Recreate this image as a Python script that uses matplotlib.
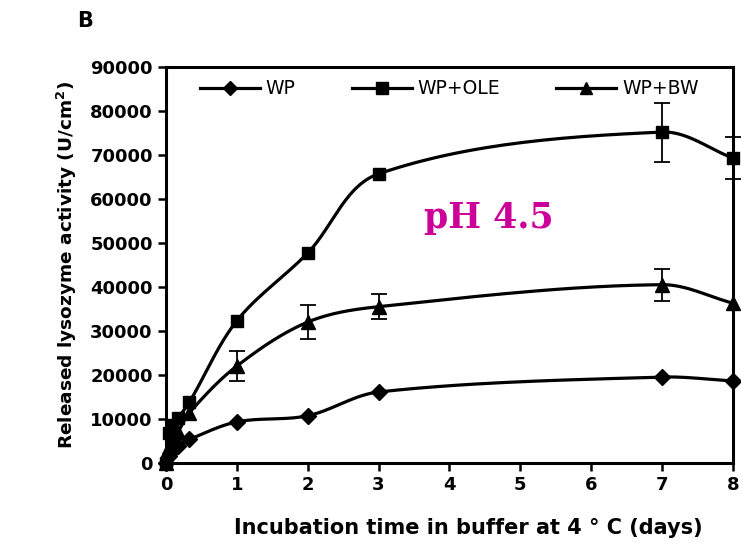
import numpy as np
import matplotlib.pyplot as plt

# sampling times (days)
days = [0, 0.04, 0.08, 0.17, 0.33, 1, 2, 3, 7, 8]

wp = [0, 1500, 2600, 3800, 5300, 9300, 10700, 16100, 19500, 18600]
wp_ole = [0, 6800, 8500, 10200, 13800, 32300, 47700, 65700, 75200, 69300]
wp_ole_err = [0, 0, 0, 0, 0, 0, 0, 0, 6700, 4700]
wp_bw = [0, 3500, 5000, 7000, 11400, 22000, 32000, 35500, 40500, 36300]
wp_bw_err = [0, 0, 0, 0, 0, 3400, 3900, 2800, 3600, 0]

# pixel scale of the plot area, used only so the smoothing looks like Excel's
SX, SY = 70.75, 0.0044


def smooth(x, y, n=30):
    # Bezier smoothing in screen space, handle length tied to segment length
    P = np.column_stack([np.asarray(x, float) * SX, np.asarray(y, float) * SY])
    m = len(P)
    tang = []
    for i in range(m):
        a = P[max(i - 1, 0)]
        b = P[min(i + 1, m - 1)]
        d = b - a
        tang.append(d / np.linalg.norm(d))
    xs, ys = [], []
    t = np.linspace(0, 1, n)
    for i in range(m - 1):
        p1, p2 = P[i], P[i + 1]
        L = np.linalg.norm(p2 - p1) / 3
        c1 = p1 + tang[i] * L
        c2 = p2 - tang[i + 1] * L
        for tt in t:
            pt = ((1 - tt) ** 3 * p1 + 3 * (1 - tt) ** 2 * tt * c1
                  + 3 * (1 - tt) * tt ** 2 * c2 + tt ** 3 * p2)
            xs.append(pt[0] / SX)
            ys.append(pt[1] / SY)
    return xs, ys


fig = plt.figure(figsize=(7.41, 5.49), dpi=100)
ax = fig.add_axes([0.224, 0.157, 0.765, 0.721])

series = [
    (wp, None, 'D', 'WP', 8),
    (wp_ole, wp_ole_err, 's', 'WP+OLE', 9),
    (wp_bw, wp_bw_err, '^', 'WP+BW', 10),
]
for vals, err, mk, lab, ms in series:
    sx, sy = smooth(days, vals)
    ax.plot(sx, sy, color='black', lw=2.3, clip_on=False)
    if err is not None:
        idx = [i for i, e in enumerate(err) if e > 0]
        ax.errorbar([days[i] for i in idx], [vals[i] for i in idx],
                    yerr=[err[i] for i in idx], fmt='none', ecolor='black',
                    elinewidth=1.3, capsize=6, capthick=1.3, clip_on=False)
    ax.plot(days, vals, linestyle='none', marker=mk, color='black', ms=ms,
            clip_on=False)
    ax.plot([], [], color='black', lw=2.3, marker=mk, ms=ms - 1, label=lab)

ax.set_xlim(0, 8)
ax.set_ylim(0, 90000)
ax.set_xticks(range(0, 9))
ax.set_yticks(range(0, 90001, 10000))
for s in ax.spines.values():
    s.set_linewidth(2.2)
ax.tick_params(direction='out', width=1.8, length=6, labelsize=13)
for lbl in ax.get_xticklabels() + ax.get_yticklabels():
    lbl.set_fontweight('bold')

ax.set_xlabel('Incubation time in buffer at 4 ° C (days)', fontsize=15,
              fontweight='bold')
ax.xaxis.set_label_coords(0.533, -0.14)
ax.set_ylabel('Released lysozyme activity (U/cm$^\\mathbf{2}$)', fontsize=13.3,
              fontweight='bold', labelpad=8)

ax.legend(loc='upper center', bbox_to_anchor=(0.5, 1.012), ncol=3, frameon=False,
          fontsize=13.5, handlelength=3.2, columnspacing=3.0, handletextpad=0.3)

ax.text(4.55, 55700, 'pH 4.5', color='#CC0099', fontsize=25,
        fontweight='bold', family='DejaVu Serif', ha='center', va='center')
fig.text(0.115, 0.962, 'B', fontsize=15, fontweight='bold', ha='center',
         va='center')

fig.savefig('out.png', dpi=100)
